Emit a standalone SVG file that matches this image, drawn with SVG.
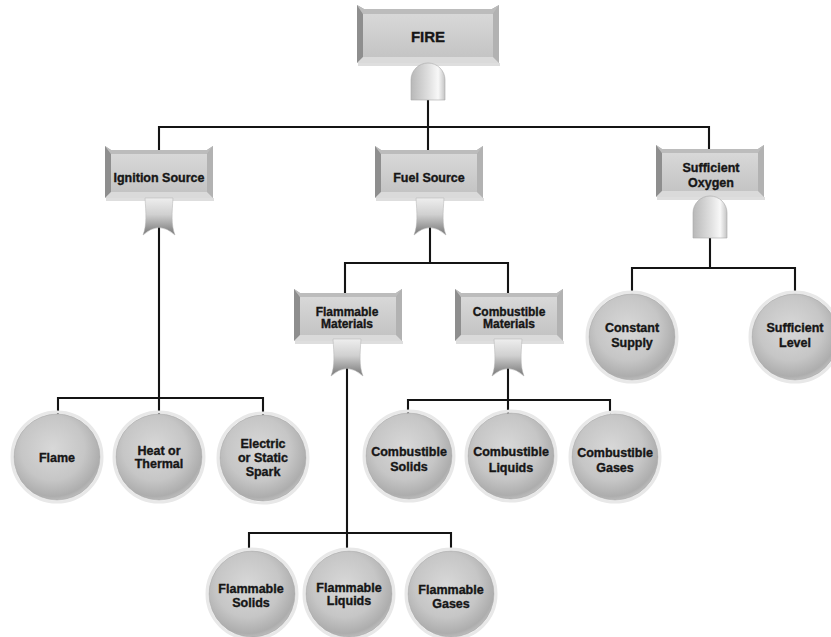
<svg xmlns="http://www.w3.org/2000/svg" xmlns:xlink="http://www.w3.org/1999/xlink" width="831" height="637" viewBox="0 0 831 637">
  <style>
    .wire { fill: none; stroke: #141414; stroke-width: 2.1; stroke-linecap: square; }
    .lbl { font-family: "Liberation Sans", Arial, sans-serif; font-weight: bold; font-size: 12.5px; fill: #161616; stroke: #161616; stroke-width: 0.35; text-anchor: middle; }
    .small { font-size: 12px; }
    .big { font-size: 15px; }
    .ball { fill: url(#sphere); stroke: #a4a4a4; stroke-width: 0.6; }
    .halo { fill: none; stroke: #e8e8e8; stroke-width: 3; }
  </style>
  <defs>
    <linearGradient id="face" x1="0" y1="0" x2="0" y2="1">
      <stop offset="0" stop-color="#d8d8d8"/>
      <stop offset="1" stop-color="#c4c4c4"/>
    </linearGradient>
    <linearGradient id="orFill" x1="0" y1="0" x2="0" y2="1">
      <stop offset="0" stop-color="#eeeeee"/>
      <stop offset="0.45" stop-color="#d0d0d0"/>
      <stop offset="1" stop-color="#767676"/>
    </linearGradient>
    <linearGradient id="andFill" x1="0" y1="0" x2="1" y2="0">
      <stop offset="0" stop-color="#b8b8b8"/>
      <stop offset="0.55" stop-color="#e2e2e2"/>
      <stop offset="0.8" stop-color="#f8f8f8"/>
      <stop offset="1" stop-color="#c4c4c4"/>
    </linearGradient>
    <radialGradient id="sphere" cx="0.45" cy="0.4" r="0.62">
      <stop offset="0" stop-color="#d8d8d8"/>
      <stop offset="0.6" stop-color="#c6c6c6"/>
      <stop offset="0.9" stop-color="#adadad"/>
      <stop offset="1" stop-color="#c0c0c0"/>
    </radialGradient>

    <!-- bevelled label plate, 108 x 48 -->
    <g id="box">
      <rect x="1" y="48" width="108" height="3" fill="#c8c8c8" opacity="0.6"/>
      <path d="M0,-4 L6,0 L102,0 L108,-4 L108,48 L0,48 Z" fill="#a6a6a6"/>
      <rect x="5" y="4" width="98" height="38" fill="url(#face)"/>
      <path d="M0,-4 L6,4 L6,42 L0,48 Z" fill="#8e8e8e"/>
      <path d="M108,-4 L102,4 L102,42 L108,48 Z" fill="#b2b2b2"/>
      <path d="M0,-4 L6,0 L102,0 L108,-4 L102,4 L6,4 Z" fill="#bcbcbc"/>
      <path d="M0,48 L6,42 L102,42 L108,48 Z" fill="#dadada"/>
    </g>
    <!-- OR gate, top centred at origin -->
    <path id="orGate" d="M-14,0 L14,0 C13,15 12,27 16,37 Q0,22 -16,37 C-12,27 -13,15 -14,0 Z" fill="url(#orFill)" stroke="#b0b0b0" stroke-width="0.5"/>
  </defs>

  <!-- connectors -->
  <g id="connectors">
    <path class="wire" d="M428,100 V127 M159,127 H709 M159,127 V150 M428,127 V150 M709,127 V149"/>
    <path class="wire" d="M159,222 V398 M58,398 H263 M58,398 V413 M159,398 V413 M263,398 V414"/>
    <path class="wire" d="M430,222 V263 M345,263 H508 M345,263 V293 M508,263 V293"/>
    <path class="wire" d="M710,238 V268 M632,268 H795 M632,268 V291 M795,268 V291"/>
    <path class="wire" d="M347,362 V533 M249,533 H451 M249,533 V549 M347,533 V549 M451,533 V549"/>
    <path class="wire" d="M508,362 V400 M408,400 H610 M408,400 V413 M508,400 V413 M610,400 V413"/>
  </g>

  <!-- top event -->
  <g id="fire">
    <rect x="358" y="63" width="142" height="3" fill="#c8c8c8" opacity="0.6"/>
    <path d="M357,5 L364,9 L492,9 L499,5 L499,63 L357,63 Z" fill="#a6a6a6"/>
    <rect x="363" y="14" width="130" height="43" fill="url(#face)"/>
    <path d="M357,5 L363,14 L363,57 L357,63 Z" fill="#8e8e8e"/>
    <path d="M499,5 L493,14 L493,57 L499,63 Z" fill="#b2b2b2"/>
    <path d="M357,5 L364,9 L492,9 L499,5 L493,14 L363,14 Z" fill="#bcbcbc"/>
    <path d="M357,63 L363,57 L493,57 L499,63 Z" fill="#dadada"/>
    <path d="M411,100 L411,80 A17,17 0 0 1 445,80 L445,100 Z" fill="url(#andFill)" stroke="#a8a8a8" stroke-width="0.6"/>
    <text class="lbl big" x="428" y="41.5">FIRE</text>
  </g>

  <!-- intermediate events -->
  <g id="ignition-source">
    <use xlink:href="#box" href="#box" x="105" y="150"/>
    <use xlink:href="#orGate" href="#orGate" x="159" y="198"/>
    <text class="lbl" x="159" y="181.5">Ignition Source</text>
  </g>
  <g id="fuel-source">
    <use xlink:href="#box" href="#box" x="375" y="150"/>
    <use xlink:href="#orGate" href="#orGate" x="430" y="198"/>
    <text class="lbl" x="429" y="181.5">Fuel Source</text>
  </g>
  <g id="sufficient-oxygen">
    <use xlink:href="#box" href="#box" x="656" y="149"/>
    <path d="M693,238 L693,213 A17,17 0 0 1 727,213 L727,238 Z" fill="url(#andFill)" stroke="#a8a8a8" stroke-width="0.6"/>
    <text class="lbl" x="711" y="171.5">Sufficient</text>
    <text class="lbl" x="711" y="186.5">Oxygen</text>
  </g>
  <g id="flammable-materials">
    <use xlink:href="#box" href="#box" x="294" y="293"/>
    <use xlink:href="#orGate" href="#orGate" x="347" y="339"/>
    <text class="lbl small" x="347" y="315.5">Flammable</text>
    <text class="lbl small" x="347" y="328">Materials</text>
  </g>
  <g id="combustible-materials">
    <use xlink:href="#box" href="#box" x="455" y="293"/>
    <use xlink:href="#orGate" href="#orGate" x="508" y="339"/>
    <text class="lbl small" x="509" y="315.5">Combustible</text>
    <text class="lbl small" x="509" y="328">Materials</text>
  </g>

  <!-- basic events -->
  <g id="flame">
    <circle class="halo" cx="57" cy="457" r="45"/>
    <circle class="ball" cx="57" cy="457" r="43"/>
    <text class="lbl" x="57" y="461.5">Flame</text>
  </g>
  <g id="heat-or-thermal">
    <circle class="halo" cx="159" cy="457" r="45"/>
    <circle class="ball" cx="159" cy="457" r="43"/>
    <text class="lbl" x="159" y="454.5">Heat or</text>
    <text class="lbl" x="159" y="468">Thermal</text>
  </g>
  <g id="electric-or-static-spark">
    <circle class="halo" cx="263" cy="458" r="45"/>
    <circle class="ball" cx="263" cy="458" r="43"/>
    <text class="lbl" x="263" y="447.5">Electric</text>
    <text class="lbl" x="263" y="461.5">or Static</text>
    <text class="lbl" x="263" y="475.5">Spark</text>
  </g>
  <g id="combustible-solids">
    <circle class="halo" cx="409" cy="456" r="45"/>
    <circle class="ball" cx="409" cy="456" r="43"/>
    <text class="lbl" x="409" y="456">Combustible</text>
    <text class="lbl" x="409" y="471">Solids</text>
  </g>
  <g id="combustible-liquids">
    <circle class="halo" cx="511" cy="456" r="45"/>
    <circle class="ball" cx="511" cy="456" r="43"/>
    <text class="lbl" x="511" y="456">Combustible</text>
    <text class="lbl" x="511" y="472">Liquids</text>
  </g>
  <g id="combustible-gases">
    <circle class="halo" cx="615" cy="457" r="45"/>
    <circle class="ball" cx="615" cy="457" r="43"/>
    <text class="lbl" x="615" y="457">Combustible</text>
    <text class="lbl" x="615" y="472">Gases</text>
  </g>
  <g id="constant-supply">
    <circle class="halo" cx="632" cy="337" r="45"/>
    <circle class="ball" cx="632" cy="337" r="43"/>
    <text class="lbl" x="632" y="331.5">Constant</text>
    <text class="lbl" x="632" y="346.5">Supply</text>
  </g>
  <g id="sufficient-level">
    <circle class="halo" cx="795" cy="337" r="45"/>
    <circle class="ball" cx="795" cy="337" r="43"/>
    <text class="lbl" x="795" y="331.5">Sufficient</text>
    <text class="lbl" x="795" y="346.5">Level</text>
  </g>
  <g id="flammable-solids">
    <circle class="halo" cx="252" cy="594" r="45"/>
    <circle class="ball" cx="252" cy="594" r="43"/>
    <text class="lbl" x="251" y="592.5">Flammable</text>
    <text class="lbl" x="251" y="606.5">Solids</text>
  </g>
  <g id="flammable-liquids">
    <circle class="halo" cx="349" cy="594" r="45"/>
    <circle class="ball" cx="349" cy="594" r="43"/>
    <text class="lbl" x="349" y="591.5">Flammable</text>
    <text class="lbl" x="349" y="605">Liquids</text>
  </g>
  <g id="flammable-gases">
    <circle class="halo" cx="451" cy="594" r="45"/>
    <circle class="ball" cx="451" cy="594" r="43"/>
    <text class="lbl" x="451" y="594">Flammable</text>
    <text class="lbl" x="451" y="608">Gases</text>
  </g>
</svg>
